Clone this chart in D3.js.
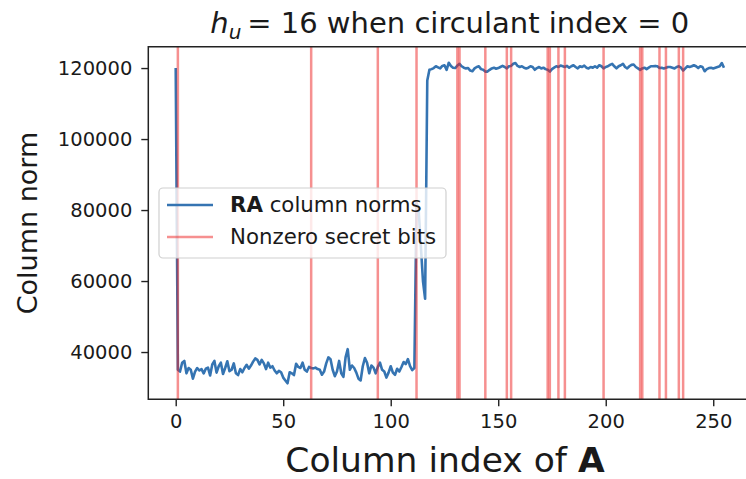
<!DOCTYPE html>
<html>
<head>
<meta charset="utf-8">
<script src="https://cdn.jsdelivr.net/npm/d3@7"></script>
<style>
  body { margin: 0; background: #fff; }
  text { font-family: "DejaVu Sans", sans-serif; fill: #1a1a1a; }
</style>
</head>
<body>
<div id="chart"></div>
<script>
// column norms of RA, one value per column index 0..255
const lowNorms = [
  120000, 35000, 34500, 37000, 37500, 34000, 35500, 35000, 32500, 34500,
  35500, 34800, 35200, 34000, 35300, 35600, 33400, 36500, 37500, 34200,
  36000, 37000, 33800, 35500, 37400, 34600, 35000, 36800, 34000, 33500,
  35200, 34300, 35500, 36400, 35300, 36200, 37300, 38200, 37800, 36500,
  37800, 36800, 35200, 37000, 35600, 36000, 34800, 34000, 34700, 34300,
  32800, 32000, 31200, 34300, 34000, 33500, 36700, 35800, 35500, 37000,
  35000, 34500, 35800, 35500, 35400, 35600, 35200, 35000, 33600, 34500,
  36800, 38500, 38000, 35000, 33200, 34500, 37500, 34000, 33000, 38500,
  40800, 35000, 36200, 35500, 34200, 32500, 32000, 36000, 38300, 37000,
  34000, 36200, 35600, 34000, 35800, 37000, 35000, 34500, 32800, 34200,
  36000, 34200, 33600, 35300, 34500, 35800, 37200, 36600, 38000, 36000,
  34900, 35500
];
const transitionNorms = [82000, 80000, 70000, 60000, 55000, 116500, 119500];
const highNorms = [
  119700, 120000, 120500, 120200, 119900, 120600, 120800, 119500, 121500, 120600,
  120100, 120000, 120700, 121200, 120500, 120100, 119900, 120000, 119300, 119100,
  119900, 120300, 120500, 119700, 119500, 119000, 119000, 119500, 119900, 120100,
  119800, 120000, 120300, 120600, 120300, 119900, 120500, 120600, 121200, 121400,
  120600, 120300, 120500, 120100, 119900, 120100, 120500, 120300, 119500, 120000,
  120300, 119900, 120100, 119700, 119500, 119000, 119700, 120100, 120500, 120300,
  120700, 120500, 120300, 120600, 120100, 120500, 120800, 120300, 119900, 120500,
  120300, 120700, 120100, 119900, 120300, 120100, 120500, 120100, 120800, 120500,
  119900, 120300, 120500, 120900, 121200, 120500, 119900, 120500, 120800, 121200,
  120300, 119900, 120500, 120900, 121000, 120300, 119900, 119500, 119900, 120100,
  119700, 120100, 120500, 120500, 120600, 120500, 120000, 120100, 119900, 120100,
  120300, 120300, 120100, 119900, 120300, 120500, 120100, 119300, 119900, 120500,
  120300, 120500, 120800, 120500, 120000, 120500, 120300, 119100, 119700, 120000,
  120100, 119900, 120100, 120300, 120500, 121400, 120100
];
const columnNorms = lowNorms.concat(transitionNorms, highNorms);

// indices of nonzero secret bits
const secretBits = [1, 63, 94, 112, 131, 132, 144, 154, 156, 173, 174, 178, 181,
                    199, 216, 217, 225, 228, 234, 236];

const xTicks = [0, 50, 100, 150, 200, 250];
const yTicks = [40000, 60000, 80000, 100000, 120000];

const width = 746, height = 479;
const plot = {left: 148.3, right: 751.4, top: 46.7, bottom: 399.3};

const svg = d3.select("#chart")
  .append("svg")
    .attr("width", width)
    .attr("height", height);

const data = columnNorms.map((v, i) => ({i: i, v: v}));

// matplotlib-style 5% margins
const n = data.length - 1;
const x = d3.scaleLinear()
  .domain([-0.05 * n, n * 1.05])
  .range([plot.left, plot.right]);

const [yMin, yMax] = d3.extent(columnNorms);
const yPad = (yMax - yMin) * 0.05;
const y = d3.scaleLinear()
  .domain([yMin - yPad, yMax + yPad])
  .range([plot.bottom, plot.top]);

svg.append("clipPath").attr("id", "clip")
  .append("rect")
    .attr("x", plot.left).attr("y", plot.top)
    .attr("width", plot.right - plot.left)
    .attr("height", plot.bottom - plot.top);

const area = svg.append("g").attr("clip-path", "url(#clip)");

// RA column norms
area.append("path")
  .datum(data)
  .attr("fill", "none")
  .attr("stroke", "#3574b2")
  .attr("stroke-width", 2.6)
  .attr("stroke-linejoin", "round")
  .attr("d", d3.line().x(d => x(d.i)).y(d => y(d.v)));

// secret bit lines
area.selectAll("line.bit")
  .data(secretBits)
  .enter()
  .append("line")
    .attr("class", "bit")
    .attr("x1", d => x(d))
    .attr("x2", d => x(d))
    .attr("y1", plot.top)
    .attr("y2", plot.bottom)
    .attr("stroke", "#ee2222")
    .attr("stroke-opacity", 0.5)
    .attr("stroke-width", 2.5);

// axes
const xAxis = svg.append("g")
  .attr("transform", `translate(0,${plot.bottom})`)
  .call(d3.axisBottom(x).tickValues(xTicks).tickSize(7).tickPadding(8));
const yAxis = svg.append("g")
  .attr("transform", `translate(${plot.left},0)`)
  .call(d3.axisLeft(y).tickValues(yTicks).tickSize(7).tickPadding(9).tickFormat(d3.format("d")));

[xAxis, yAxis].forEach(g => {
  g.select(".domain").remove();
  g.selectAll(".tick line").attr("stroke", "#222").attr("stroke-width", 1.4);
  g.selectAll("text").attr("font-size", 19.5).attr("fill", "#1a1a1a")
    .style("font-family", "DejaVu Sans");
});

// spines (right one falls outside the picture)
svg.append("path")
  .attr("d", `M${plot.right},${plot.top}H${plot.left}V${plot.bottom}H${plot.right}`)
  .attr("fill", "none")
  .attr("stroke", "#222")
  .attr("stroke-width", 1.5);

// title
const title = svg.append("text")
  .attr("x", (plot.left + plot.right) / 2)
  .attr("y", 33)
  .attr("text-anchor", "middle")
  .attr("font-size", 29);
title.append("tspan").attr("font-style", "italic").text("h");
title.append("tspan").attr("font-style", "italic").attr("font-size", 20).attr("dy", 6).text("u");
title.append("tspan").attr("dy", -6).text("\u2009= 16 when circulant index = 0");

// axis labels
svg.append("text")
  .attr("transform", `translate(37,${(plot.top + plot.bottom) / 2}) rotate(-90)`)
  .attr("text-anchor", "middle")
  .attr("font-size", 27)
  .text("Column norm");

const xl = svg.append("text")
  .attr("x", 445)
  .attr("y", 472)
  .attr("text-anchor", "middle")
  .attr("font-size", 34.5);
xl.append("tspan").text("Column index of ");
xl.append("tspan").attr("font-weight", "bold").text("A");

// legend
const legend = svg.append("g");
legend.append("rect")
  .attr("x", 159).attr("y", 188)
  .attr("width", 287).attr("height", 70)
  .attr("rx", 4)
  .attr("fill", "white").attr("fill-opacity", 0.8)
  .attr("stroke", "#d0d0d0").attr("stroke-width", 1.2);

const items = [
  {color: "#3574b2", opacity: 1, width: 2.6, bold: "RA", label: " column norms"},
  {color: "#ee2222", opacity: 0.5, width: 2.5, bold: "", label: "Nonzero secret bits"}
];
items.forEach((it, k) => {
  const cy = 205 + k * 32;
  legend.append("line")
    .attr("x1", 167).attr("x2", 213)
    .attr("y1", cy).attr("y2", cy)
    .attr("stroke", it.color)
    .attr("stroke-opacity", it.opacity)
    .attr("stroke-width", it.width);
  const t = legend.append("text")
    .attr("x", 230).attr("y", cy + 7)
    .attr("font-size", 21.3);
  if (it.bold) t.append("tspan").attr("font-weight", "bold").text(it.bold);
  t.append("tspan").text(it.label);
});
</script>
</body>
</html>
